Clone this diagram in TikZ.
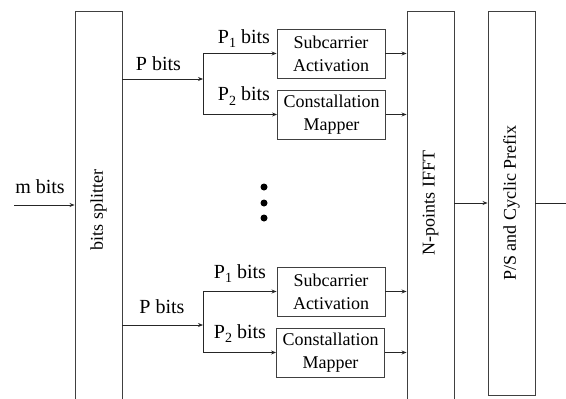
\documentclass[tikz,border=0pt]{standalone}
\usepackage{fontspec}
\setmainfont{Liberation Serif}
\usetikzlibrary{arrows.meta}
\newcommand{\subdig}[1]{\raisebox{-4.5pt}{\fontsize{14}{14}\selectfont #1}}
\begin{document}
\begin{tikzpicture}[x=1pt,y=-1pt,
  line width=0.9pt,
  bigbox/.style={draw=black!75, minimum width=47pt, inner sep=0pt},
  smallbox/.style={draw=black!75, minimum width=108pt, minimum height=49pt, inner sep=0pt, align=center, font=\fontsize{18}{23}\selectfont},
  rottext/.style={rotate=90, font=\fontsize{18}{22}\selectfont, inner sep=0pt},
  lbl/.style={anchor=base, font=\fontsize{20}{24}\selectfont, inner sep=0pt},
  conn/.style={draw=black!85, -{Stealth[length=5pt,width=4pt]}},
  plain/.style={draw=black!85},
  dot/.style={circle, fill=black, inner sep=0pt, minimum size=7pt}]
\useasboundingbox (0,0) rectangle (566,399);
\clip (0,0) rectangle (566,399);
% big boxes
\node[bigbox, minimum height=399pt, anchor=north] (split) at (98.5,11) {};
\node[rottext] (splitT) at (98.5,210) {bits splitter};
\node[bigbox, minimum height=399pt, anchor=north] (ifft) at (430.5,11) {};
\node[rottext] (ifftT) at (430.5,203) {N-points IFFT};
\node[bigbox, minimum height=384pt, anchor=north] (ps) at (511.5,11) {};
\node[rottext] (psT) at (511.5,203) {P/S and Cyclic Prefix};
% small boxes
\node[smallbox] (sa1) at (331,53.5) {Subcarrier\\Activation};
\node[smallbox] (cm1) at (331.5,114.5) {Constallation\\Mapper};
\node[smallbox] (sa2) at (331,291.5) {Subcarrier\\Activation};
\node[smallbox] (cm2) at (330.5,352.5) {Constallation\\Mapper};
% input
\coordinate (min) at (14,205);
\draw[conn] (min) -- (min -| split.west);
\node[lbl] (mlbl) at (40,193) {m bits};
% top branch
\coordinate (b1) at (203,79);
\draw[conn] (split.east |- b1) -- (b1);
\node[lbl] (p1lbl) at (158.5,70) {P bits};
\draw[plain] (b1 |- sa1.west) -- (b1 |- cm1.west);
\draw[conn] (b1 |- sa1.west) -- (sa1.west);
\draw[conn] (b1 |- cm1.west) -- (cm1.west);
\node[lbl] (p11) at (244,43.3) {P\subdig{1} bits};
\node[lbl] (p12) at (244,100.7) {P\subdig{2} bits};
\draw[conn] (sa1.east) -- (sa1.east -| ifft.west);
\draw[conn] (cm1.east) -- (cm1.east -| ifft.west);
% bottom branch
\coordinate (b2) at (203,325);
\draw[conn] (split.east |- b2) -- (b2);
\node[lbl] (p2lbl) at (162,313) {P bits};
\draw[plain] (b2 |- sa2.west) -- (b2 |- cm2.west);
\draw[conn] (b2 |- sa2.west) -- (sa2.west);
\draw[conn] (b2 |- cm2.west) -- (cm2.west);
\node[lbl] (p21) at (240,278) {P\subdig{1} bits};
\node[lbl] (p22) at (240,338) {P\subdig{2} bits};
\draw[conn] (sa2.east) -- (sa2.east -| ifft.west);
\draw[conn] (cm2.east) -- (cm2.east -| ifft.west);
% dots
\node[dot] (d1) at (264,187) {};
\node[dot] (d2) at (264,203) {};
\node[dot] (d3) at (264,218) {};
% output
\coordinate (oy) at (0,203);
\draw[conn] (ifft.east |- oy) -- (ps.west |- oy);
\coordinate (out) at (566,203);
\draw[plain] (ps.east |- oy) -- (out);
\end{tikzpicture}
\end{document}
